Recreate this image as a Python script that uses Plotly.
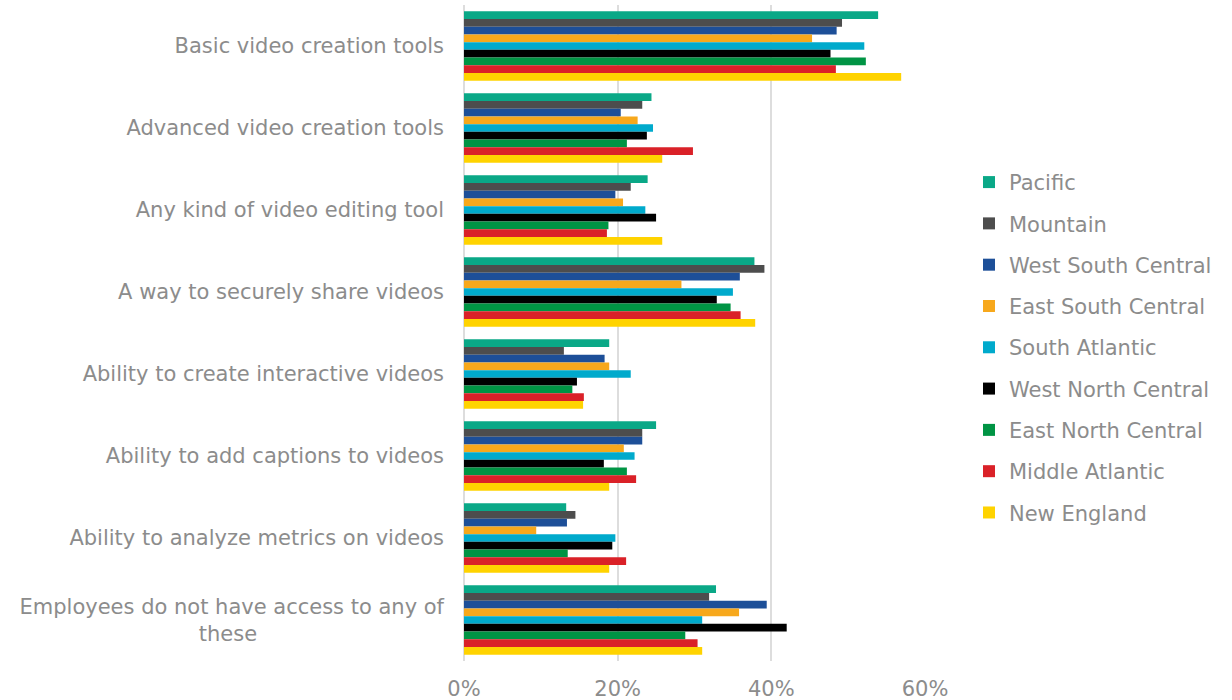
import plotly.graph_objects as go

NB = "\u00a0"
categories = [
    "Basic video creation tools",
    "Advanced video creation tools",
    "Any kind of video editing tool",
    "A way to securely share videos",
    "Ability to create interactive videos",
    "Ability to add captions to videos",
    "Ability to analyze metrics on videos",
    "Employees do not have access to any of<br>these" + NB * 28,
]

series_names = [
    "Pacific", "Mountain", "West South Central", "East South Central",
    "South Atlantic", "West North Central", "East North Central",
    "Middle Atlantic", "New England",
]

pacific = [53.9, 24.4, 23.9, 37.8, 18.9, 25.0, 13.3, 32.8]
mountain = [49.2, 23.2, 21.7, 39.1, 13.0, 23.2, 14.5, 31.9]
west_south_central = [48.5, 20.4, 19.7, 35.9, 18.3, 23.2, 13.4, 39.4]
east_south_central = [45.3, 22.6, 20.7, 28.3, 18.9, 20.8, 9.4, 35.8]
south_atlantic = [52.1, 24.6, 23.6, 35.0, 21.7, 22.2, 19.7, 31.0]
west_north_central = [47.7, 23.8, 25.0, 32.9, 14.7, 18.2, 19.3, 42.0]
east_north_central = [52.3, 21.2, 18.8, 34.7, 14.1, 21.2, 13.5, 28.8]
middle_atlantic = [48.4, 29.8, 18.6, 36.0, 15.6, 22.4, 21.1, 30.4]
new_england = [56.9, 25.8, 25.8, 37.9, 15.5, 18.9, 18.9, 31.0]

series_values = [
    pacific, mountain, west_south_central, east_south_central,
    south_atlantic, west_north_central, east_north_central,
    middle_atlantic, new_england,
]

colors = [
    "#0AA887", "#4D4D4D", "#1D4F98", "#F7A81C", "#00AACC",
    "#000000", "#009444", "#DA2128", "#FFD300",
]

fig = go.Figure()
for i, (name, vals, col) in enumerate(zip(series_names, series_values, colors)):
    fig.add_trace(go.Bar(
        y=categories,
        x=[v / 100 for v in vals],
        name=name,
        orientation="h",
        marker=dict(color=col, line=dict(width=0)),
        legendgroup=f"g{i}",
    ))

font_color = "#8C8C8C"
fs = 21
fig.update_layout(
    width=1232, height=700,
    barmode="group",
    bargap=0.15,
    bargroupgap=0,
    plot_bgcolor="white",
    paper_bgcolor="white",
    font=dict(family="DejaVu Sans, Verdana, sans-serif", size=fs, color=font_color),
    margin=dict(l=464, r=307, t=5, b=39, autoexpand=False),
    xaxis=dict(
        range=[0, 0.6],
        tickvals=[0, 0.2, 0.4, 0.6],
        tickformat=".0%",
        showgrid=True,
        gridcolor="#DDDDDD",
        gridwidth=2,
        zeroline=True,
        zerolinecolor="#DDDDDD",
        zerolinewidth=2,
        showline=False,
        automargin=False,
        tickfont=dict(size=fs, color=font_color),
        ticklabelstandoff=13,
    ),
    yaxis=dict(
        autorange="reversed",
        showgrid=False,
        showline=False,
        ticks="",
        automargin=False,
        tickfont=dict(size=fs, color=font_color),
        ticklabelstandoff=19,
    ),
    legend=dict(
        x=1.0954, y=0.478, xanchor="left", yanchor="middle",
        traceorder="grouped",
        tracegroupgap=11,
        font=dict(size=fs, color=font_color),
        itemwidth=30,
    ),
)

fig.write_html(
    "out.html",
    config={"displayModeBar": False},
    post_script="document.body.style.margin='0';document.body.style.overflow='hidden';",
)
